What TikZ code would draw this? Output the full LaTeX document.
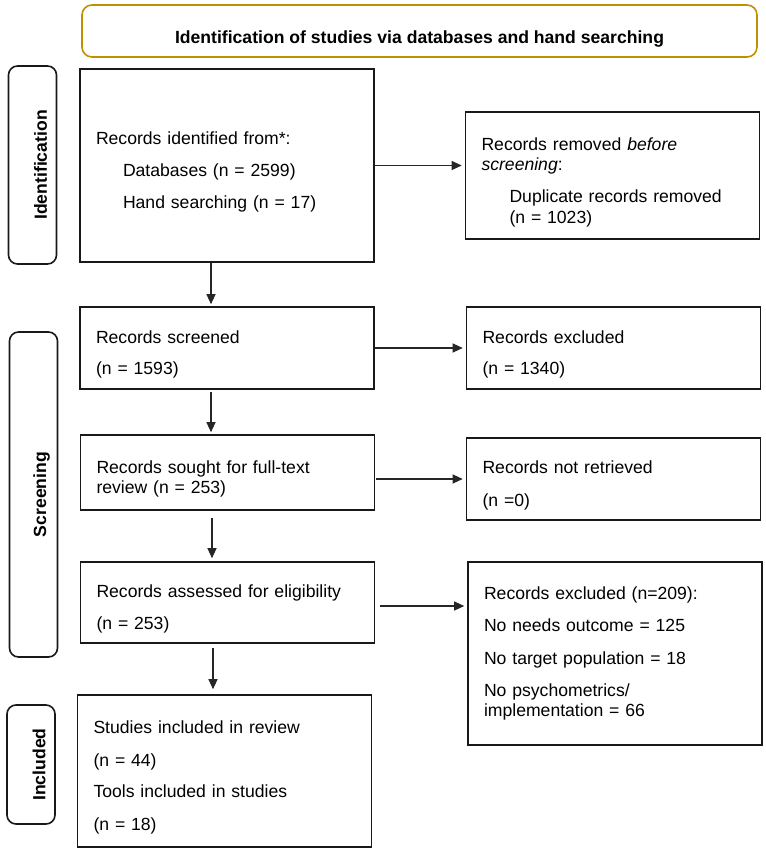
\documentclass[tikz,border=0pt]{standalone}
\usepackage{fontspec}
\setmainfont{Liberation Sans}
\usepackage{xcolor}
\usetikzlibrary{arrows.meta}
\definecolor{titlegold}{RGB}{191,144,0}
\newcommand{\lowertext}[2][6.5pt]{\raisebox{-#1}[\height][\depth]{\parbox{262pt}{\raggedright #2}}}
\tikzset{
    record-box/.style = {draw=black!90, line width=1.6pt, rectangle, align=left, text width=262pt, inner xsep=16pt, inner ysep=0pt, font=\fontsize{17.6}{20.5}\selectfont},
    stage-box/.style = {draw=black!90, line width=1.6pt, rectangle, rounded corners=9pt, minimum width=48pt},
    stage-text/.style = {font=\fontsize{17.6}{20}\selectfont\bfseries},
    title-box/.style = {draw=titlegold, line width=1.6pt, rectangle, rounded corners=10pt, minimum width=675pt, minimum height=52pt, font=\fontsize{17.6}{20}\selectfont\bfseries},
    flow/.style = {draw=black!85, line width=1.1pt, -{Triangle[length=10pt,width=9pt]}},
}

\begin{document}
\begin{tikzpicture}[x=1pt,y=-1pt]
\useasboundingbox (0,0) rectangle (765,853);

\node[title-box] (title) at (419.5,31) {\raisebox{-7.5pt}[\height][\depth]{Identification of studies via databases and hand searching}};

% stages on the left
\node[stage-box, minimum height=198pt, label={[stage-text, xshift=8pt, rotate=90]center:Identification}] (ident-stage) at (32.5,165) {};
\node[stage-box, minimum height=325pt, label={[stage-text, xshift=8pt, rotate=90]center:Screening}] (screen-stage) at (33.5,494.5) {};
\node[stage-box, minimum height=119pt, label={[stage-text, xshift=8pt, rotate=90]center:Included}] (incl-stage) at (31,764.5) {};

% left column
\node[record-box, minimum height=193pt] (identified) at (227,165.5) {\lowertext{Records identified from*:\\[11.5pt]\hspace*{27pt}Databases (n = 2599)\\[11.5pt]\hspace*{27pt}Hand searching (n = 17)}};
\node[record-box, minimum height=82pt] (screened) at (227,348) {\lowertext{Records screened\\[11pt](n = 1593)}};
\node[record-box, minimum height=75pt] (sought) at (227.5,472.5) {\lowertext{Records sought for full-text\\review (n = 253)}};
\node[record-box, minimum height=81pt] (assessed) at (227.5,602.5) {\lowertext{Records assessed for eligibility\\[11pt](n = 253)}};
\node[record-box, minimum height=152pt] (included) at (224.5,771) {\lowertext{Studies included in review\\[12pt](n = 44)\\[11pt]Tools included in studies\\[12pt](n = 18)}};

% right column
\node[record-box, minimum height=127pt] (removed) at (612.5,175.5) {\lowertext{Records removed \textit{before}\\\textit{screening}:\\[11.5pt]\hspace*{28pt}Duplicate records removed\\\hspace*{28pt}(n = 1023)}};
\node[record-box, minimum height=82pt] (excluded) at (613.5,348) {\lowertext{Records excluded\\[11pt](n = 1340)}};
\node[record-box, minimum height=82pt] (not-retrieved) at (613.5,479) {\lowertext{Records not retrieved\\[13pt](n =0)}};
\node[record-box, minimum height=183pt] (excluded-full) at (615,653.5) {Records excluded (n=209):\\[11pt]No needs outcome = 125\\[13pt]No target population = 18\\[11pt]No psychometrics/\\implementation = 66};

% downward flow
\draw[flow, shorten >=2pt] ([xshift=-16pt]identified.south) -- ([xshift=-16pt]identified.south |- screened.north);
\draw[flow, shorten <=2pt, shorten >=2pt] ([xshift=-16pt]screened.south) -- ([xshift=-16pt]screened.south |- sought.north);
\draw[flow, shorten <=7pt, shorten >=3pt] ([xshift=-15.5pt]sought.south) -- ([xshift=-15.5pt]sought.south |- assessed.north);
\draw[flow, shorten <=4pt, shorten >=5pt] ([xshift=-14.5pt]assessed.south) -- ([xshift=-14.5pt]assessed.south |- included.north);

% exclusions
\draw[flow, shorten >=3pt] (identified.east) -- (identified.east -| removed.west);
\draw[flow, shorten >=3pt] (screened.east) -- (screened.east -| excluded.west);
\draw[flow, shorten <=1pt, shorten >=3pt] (sought.east |- not-retrieved.west) -- (not-retrieved.west);
\draw[flow, shorten <=5pt, shorten >=3pt] ([yshift=-3.5pt]assessed.east) -- ([yshift=-3.5pt]assessed.east -| excluded-full.west);
\end{tikzpicture}
\end{document}
